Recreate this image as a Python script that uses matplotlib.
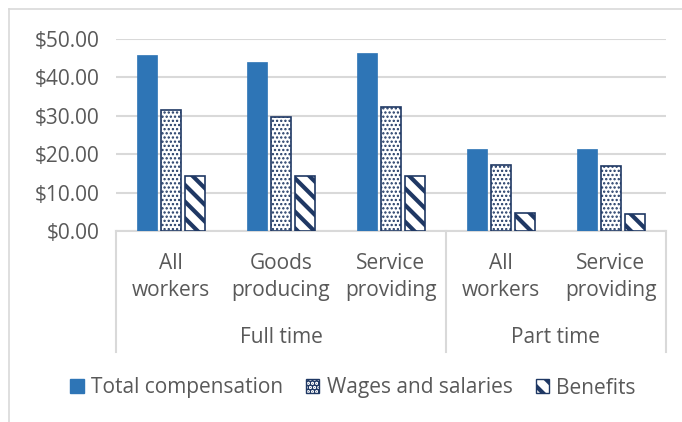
import matplotlib.pyplot as plt
from matplotlib.lines import Line2D
from matplotlib.patches import Patch

categories = ["All\nworkers", "Goods\nproducing", "Service\nproviding", "All\nworkers", "Service\nproviding"]
groups = ["Full time", "Part time"]
group_sizes = [3, 2]

total_comp = [45.9, 44.0, 46.4, 21.4, 21.3]
wages = [31.6, 29.8, 32.3, 17.1, 17.0]
benefits = [14.3, 14.3, 14.2, 4.6, 4.5]

ticks = [0, 10, 20, 30, 40, 50]
tick_labels = ["$0.00", "$10.00", "$20.00", "$30.00", "$40.00", "$50.00"]

blue = "#2E75B6"
navy = "#1F3864"
text_c = "#595959"
grid_c = "#D9D9D9"

plt.rcParams["font.family"] = ["Open Sans", "DejaVu Sans"]

DPI = 100
FS = 15
fig = plt.figure(figsize=(682 / DPI, 422 / DPI), dpi=DPI)
ax = fig.add_axes([116 / 682, 1 - 231 / 422, 550 / 682, 192 / 422])

x = list(range(len(categories)))
w = 0.18
off = 0.22


def set_hlw(patches, lw):
    for p in patches:
        if hasattr(p, "set_hatch_linewidth"):
            p.set_hatch_linewidth(lw)


dots = "...."
stripes = "\\\\"

plt.rcParams["hatch.linewidth"] = 1.0
ax.bar([i - off for i in x], total_comp, width=w, color=blue, edgecolor=blue, linewidth=0.5, zorder=3)
plt.rcParams["hatch.linewidth"] = 1.1
b2 = ax.bar(x, wages, width=w, color="white", edgecolor=navy, hatch=dots, linewidth=1.2, zorder=3)
set_hlw(b2, 1.1)
plt.rcParams["hatch.linewidth"] = 3.0
b3 = ax.bar([i + off for i in x], benefits, width=w, color="white", edgecolor=navy, hatch=stripes, linewidth=1.2, zorder=3)
set_hlw(b3, 3.0)

ax.set_xlim(-0.5, len(categories) - 0.5)
ax.set_ylim(0, 50)
ax.set_yticks(ticks)
ax.set_yticklabels(tick_labels, color=text_c, fontsize=FS)
ax.tick_params(axis="y", length=0, pad=12)
ax.set_xticks([])
ax.yaxis.grid(True, color=grid_c, linewidth=1.5, zorder=0)
for s in ["left", "right", "top"]:
    ax.spines[s].set_visible(False)
ax.spines["bottom"].set_color(grid_c)
ax.spines["bottom"].set_linewidth(1.5)

# category labels
for i, lab in enumerate(categories):
    ax.text(i, -0.24, lab, transform=ax.get_xaxis_transform(), ha="center", va="center",
            fontsize=FS, color=text_c, linespacing=1.38)

# group labels and separators
start = 0
bounds = [-0.5]
for g, n in zip(groups, group_sizes):
    mid = start + (n - 1) / 2
    ax.text(mid, -0.556, g, transform=ax.get_xaxis_transform(), ha="center", va="center",
            fontsize=FS, color=text_c)
    start += n
    bounds.append(start - 0.5)
for b in bounds:
    ax.add_line(Line2D([b, b], [0, -0.63], transform=ax.get_xaxis_transform(),
                       color=grid_c, linewidth=1.5, clip_on=False))

handles = [
    Patch(facecolor=blue, edgecolor=blue, label="Total compensation"),
    Patch(facecolor="white", edgecolor=navy, hatch=dots, label="Wages and salaries"),
    Patch(facecolor="white", edgecolor=navy, hatch=stripes, label="Benefits"),
]
leg = fig.legend(handles=handles, loc="center", bbox_to_anchor=(353 / 682, 1 - 388 / 422), ncol=3,
                 frameon=False, fontsize=FS, labelcolor=text_c, handlelength=0.65, handleheight=0.65,
                 handletextpad=0.35, columnspacing=1.1)

# chart area border (left and top)
fig.add_artist(Line2D([9 / 682, 9 / 682], [0, 1 - 9 / 422], transform=fig.transFigure, color=grid_c, linewidth=1.2))
fig.add_artist(Line2D([9 / 682, 1], [1 - 9 / 422, 1 - 9 / 422], transform=fig.transFigure, color=grid_c, linewidth=1.2))

fig.savefig("out.png", dpi=DPI)
